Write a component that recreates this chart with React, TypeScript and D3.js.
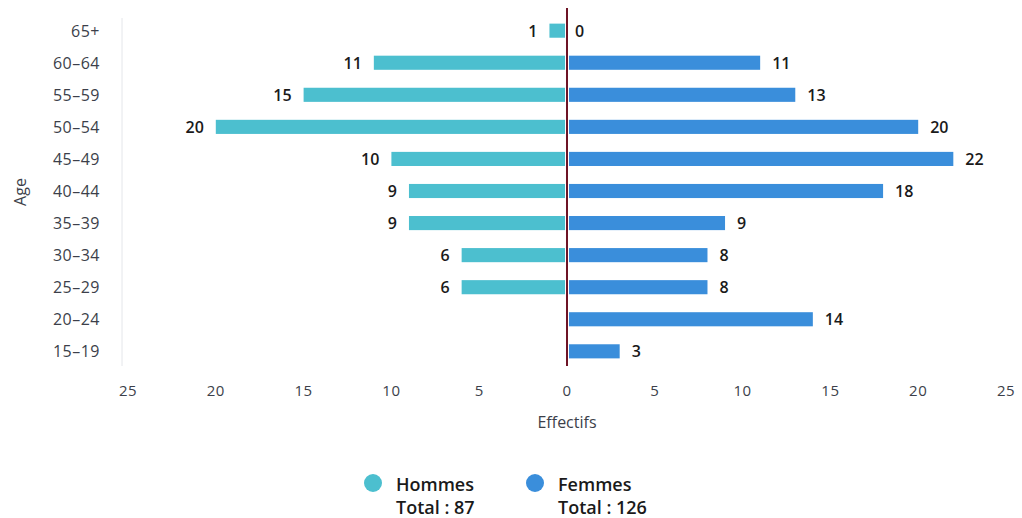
import React, { useEffect, useRef } from 'react';
import * as d3 from 'd3';

const ages = ['65+', '60-64', '55-59', '50-54', '45-49', '40-44', '35-39', '30-34', '25-29', '20-24', '15-19'];
const hommes: (number | null)[] = [1, 11, 15, 20, 10, 9, 9, 6, 6, null, null];
const femmes: number[] = [0, 11, 13, 20, 22, 18, 9, 8, 8, 14, 3];
const xTicks = [-25, -20, -15, -10, -5, 0, 5, 10, 15, 20, 25];
const legendItems = [
  { label: 'Hommes', total: 'Total : 87', color: '#4cbfcf' },
  { label: 'Femmes', total: 'Total : 126', color: '#3a8edb' },
];

const WIDTH = 1022;
const HEIGHT = 518;
const FONT = '"Open Sans", "DejaVu Sans", sans-serif';

export default function App() {
  const svgRef = useRef<SVGSVGElement>(null);

  useEffect(() => {
    if (!svgRef.current) return;
    const svg = d3.select(svgRef.current);
    svg.selectAll('*').remove();

    const x = d3.scaleLinear().domain([-25, 25]).range([128, 1006]);
    const y = d3.scaleBand().domain(ages).range([14, 368]).paddingInner(0.56).paddingOuter(0.3);
    const barH = y.bandwidth();

    // faint y axis line
    svg.append('line')
      .attr('x1', 122).attr('x2', 122)
      .attr('y1', 18).attr('y2', 366)
      .attr('stroke', '#e4e6ea').attr('stroke-width', 1);

    // age labels
    svg.append('g')
      .selectAll('text')
      .data(ages)
      .enter()
      .append('text')
      .attr('x', 100)
      .attr('y', d => (y(d) as number) + barH / 2 + 6)
      .attr('text-anchor', 'end')
      .style('font-family', FONT)
      .style('font-size', '16px')
      .style('letter-spacing', '0.5px')
      .style('fill', '#3c3f4a')
      .text(d => d.replace('-', '\u2013'));

    // Hommes bars
    const men = ages.map((a, i) => ({ age: a, v: hommes[i] })).filter(d => d.v !== null) as { age: string; v: number }[];
    svg.append('g')
      .selectAll('rect')
      .data(men)
      .enter()
      .append('rect')
      .attr('x', d => x(-d.v))
      .attr('y', d => y(d.age) as number)
      .attr('width', d => x(0) - x(-d.v) - 2)
      .attr('height', barH)
      .attr('fill', legendItems[0].color);

    svg.append('g')
      .selectAll('text')
      .data(men)
      .enter()
      .append('text')
      .attr('x', d => x(-d.v) - 12)
      .attr('y', d => (y(d.age) as number) + barH / 2 + 6)
      .attr('text-anchor', 'end')
      .style('font-family', FONT)
      .style('font-size', '16px')
      .style('font-weight', 600)
      .style('fill', '#1a1a1a')
      .text(d => d.v);

    // Femmes bars
    const women = ages.map((a, i) => ({ age: a, v: femmes[i] }));
    svg.append('g')
      .selectAll('rect')
      .data(women.filter(d => d.v > 0))
      .enter()
      .append('rect')
      .attr('x', x(0) + 2)
      .attr('y', d => y(d.age) as number)
      .attr('width', d => x(d.v) - x(0) - 2)
      .attr('height', barH)
      .attr('fill', legendItems[1].color);

    svg.append('g')
      .selectAll('text')
      .data(women)
      .enter()
      .append('text')
      .attr('x', d => x(d.v) + (d.v > 0 ? 12 : 8))
      .attr('y', d => (y(d.age) as number) + barH / 2 + 6)
      .style('font-family', FONT)
      .style('font-size', '16px')
      .style('font-weight', 600)
      .style('fill', '#1a1a1a')
      .text(d => d.v);

    // zero line
    svg.append('line')
      .attr('x1', x(0)).attr('x2', x(0))
      .attr('y1', 8).attr('y2', 366)
      .attr('stroke', '#6e1426').attr('stroke-width', 2);

    // x tick labels
    svg.append('g')
      .selectAll('text')
      .data(xTicks)
      .enter()
      .append('text')
      .attr('x', d => x(d))
      .attr('y', 396)
      .attr('text-anchor', 'middle')
      .style('font-family', FONT)
      .style('font-size', '15px')
      .style('letter-spacing', '0.5px')
      .style('fill', '#3c3f4a')
      .text(d => Math.abs(d));

    // axis titles
    svg.append('text')
      .attr('x', x(0))
      .attr('y', 428)
      .attr('text-anchor', 'middle')
      .style('font-family', FONT)
      .style('font-size', '16px')
      .style('fill', '#3c3f4a')
      .text('Effectifs');

    svg.append('text')
      .attr('transform', 'translate(26,192) rotate(-90)')
      .attr('text-anchor', 'middle')
      .style('font-family', FONT)
      .style('font-size', '16px')
      .style('fill', '#3c3f4a')
      .text('Age');

    // legend
    const legend = svg.append('g')
      .selectAll('g')
      .data(legendItems)
      .enter()
      .append('g')
      .attr('transform', (d, i) => `translate(${373 + i * 162},${483})`);

    legend.append('circle')
      .attr('r', 9)
      .attr('fill', d => d.color);

    legend.append('text')
      .attr('x', 23)
      .attr('y', 8)
      .style('font-family', FONT)
      .style('font-size', '18px')
      .style('font-weight', 600)
      .style('fill', '#1a1a1a')
      .text(d => d.label);

    legend.append('text')
      .attr('x', 23)
      .attr('y', 31)
      .style('font-family', FONT)
      .style('font-size', '18px')
      .style('font-weight', 600)
      .style('fill', '#1a1a1a')
      .text(d => d.total);
  }, []);

  return (
    <svg
      ref={svgRef}
      width={WIDTH}
      height={HEIGHT}
      style={{ position: 'absolute', left: 0, top: 0, background: '#fff' }}
    ></svg>
  );
}
